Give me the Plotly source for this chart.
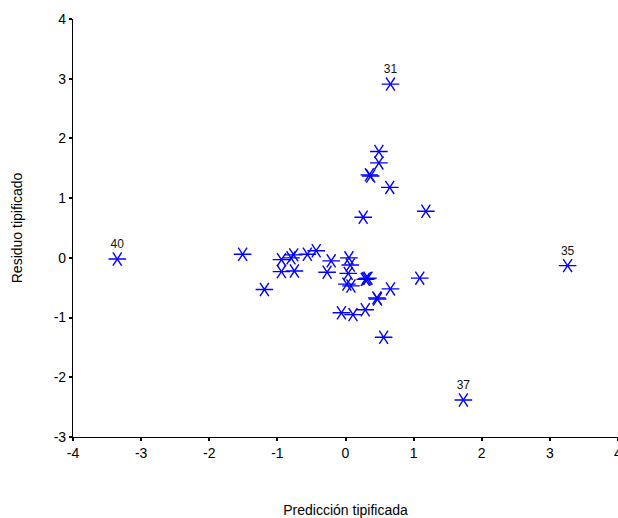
import plotly.graph_objects as go

# Predicción tipificada (x) and Residuo tipificado (y)
pred = [-3.35, 0.66, 3.26, 1.73,
        -1.51, -1.19,
        -0.94, -0.80, -0.76, -0.94, -0.75, -0.56, -0.43, -0.21, -0.27,
        0.05, 0.07, 0.04, 0.02, 0.08, 0.29, 0.31, 0.33,
        0.66, 0.47, 0.46, 1.09, 0.29, 0.11, -0.06, 0.56,
        0.49, 0.49, 0.35, 0.37, 0.65, 0.26, 1.18]
resid = [-0.02, 2.91, -0.13, -2.38,
         0.06, -0.53,
         -0.03, 0.0, 0.05, -0.23, -0.22, 0.06, 0.12, -0.05, -0.24,
         0.0, -0.12, -0.26, -0.44, -0.47, -0.36, -0.35, -0.34,
         -0.52, -0.69, -0.67, -0.34, -0.87, -0.95, -0.92, -1.33,
         1.78, 1.59, 1.39, 1.37, 1.18, 0.68, 0.78]
labels = ["40", "31", "35", "37"] + [""] * (len(pred) - 4)

x_ticks = [-4, -3, -2, -1, 0, 1, 2, 3, 4]
y_ticks = [-3, -2, -1, 0, 1, 2, 3, 4]

blue = "#0000FF"
font = "Liberation Sans, Arial, sans-serif"

fig = go.Figure()
fig.add_trace(go.Scatter(
    x=pred, y=resid, mode="markers",
    marker=dict(symbol="y-left-open", size=11, color=blue,
                line=dict(color=blue, width=1.4)),
    hoverinfo="skip", showlegend=False))
fig.add_trace(go.Scatter(
    x=pred, y=resid, mode="markers+text", text=labels,
    textposition="top center",
    textfont=dict(family=font, size=12, color="#111111"),
    marker=dict(symbol="y-right-open", size=11, color=blue,
                line=dict(color=blue, width=1.4)),
    showlegend=False))

axis_common = dict(
    showline=True, linecolor="black", linewidth=1.2,
    ticks="outside", ticklen=3, tickwidth=2, tickcolor="black",
    showgrid=False, zeroline=False, automargin=False,
    ticklabeloverflow="allow",
    tickfont=dict(family=font, size=14, color="black"),
    title_font=dict(family=font, size=14, color="black"),
)

fig.update_layout(
    width=618, height=518,
    margin=dict(l=73, r=0, t=19, b=81),
    paper_bgcolor="white", plot_bgcolor="white",
    xaxis=dict(range=[-4, 4], tickvals=x_ticks,
               ticktext=[str(v) for v in x_ticks],
               title=dict(text="Predicción tipificada", standoff=45),
               **axis_common),
    yaxis=dict(range=[-3, 4], tickvals=y_ticks,
               ticktext=[str(v) for v in y_ticks],
               title=dict(text="Residuo tipificado", standoff=27),
               **axis_common),
)

fig.write_html(
    "out.html",
    config={"displayModeBar": False},
    post_script="document.body.style.margin='0';"
                "document.body.style.overflow='hidden';",
)
